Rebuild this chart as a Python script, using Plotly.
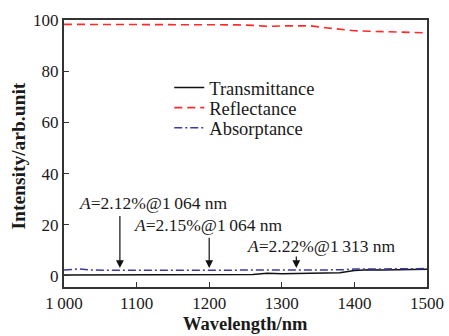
import plotly.graph_objects as go

wavelength = [1000, 1020, 1040, 1060, 1080, 1100, 1120, 1140, 1160, 1180, 1200, 1220, 1240, 1260,
              1280, 1300, 1320, 1340, 1360, 1380, 1400, 1420, 1440, 1460, 1480, 1500]
transmittance = [0.4, 0.4, 0.4, 0.4, 0.4, 0.4, 0.4, 0.4, 0.4, 0.4, 0.4, 0.4, 0.5, 0.6,
                 1.1, 0.9, 1.0, 1.1, 1.0, 1.3, 2.1, 2.4, 2.3, 2.4, 2.5, 2.6]
reflectance = [98.3, 98.3, 98.3, 98.3, 98.3, 98.3, 98.3, 98.3, 98.3, 98.2, 98.2, 98.2, 98.1, 97.9,
               97.5, 97.7, 97.8, 97.7, 97.0, 96.4, 95.8, 95.6, 95.5, 95.4, 95.3, 95.0]
absorptance = [2.3, 2.8, 2.3, 2.2, 2.2, 2.2, 2.2, 2.2, 2.2, 2.2, 2.2, 2.2, 2.2, 2.2,
               2.3, 2.3, 2.3, 2.3, 2.3, 2.4, 2.7, 2.8, 2.7, 2.8, 2.8, 2.9]

x_ticks = [1000, 1100, 1200, 1300, 1400, 1500]
x_tick_labels = ["1\u2009000", "1100", "1200", "1300", "1400", "1500"]
y_ticks = [0, 20, 40, 60, 80, 100]

x_title = "Wavelength/nm"
y_title = "Intensity/arb.unit"

notes = ["<i>A</i>=2.12%@1\u2009064 nm", "<i>A</i>=2.15%@1\u2009064 nm", "<i>A</i>=2.22%@1\u2009313 nm"]
note_text_x = [1018, 1094, 1249]
note_text_y = [28.6, 20.0, 11.8]
arrow_x = [1077, 1200, 1320]
arrow_tail_y = [24.0, 15.5, 8.2]
arrow_head_y = [3.1, 3.1, 3.1]

FONT = "Liberation Serif"
INK = "#1a1a1a"

fig = go.Figure()
fig.add_trace(go.Scatter(x=wavelength, y=transmittance, mode="lines", name="Transmittance",
                         legend="legend", line=dict(color="#111111", width=1.5)))
fig.add_trace(go.Scatter(x=wavelength, y=reflectance, mode="lines", name="Reflectance",
                         legend="legend2", line=dict(color="#ff2a2a", width=1.6, dash="8px,5px")))
fig.add_trace(go.Scatter(x=wavelength, y=absorptance, mode="lines", name="Absorptance",
                         legend="legend3", line=dict(color="#3a3aa0", width=1.5, dash="8px,3px,2px,3px")))

annotations = []
for t, tx, ty in zip(notes, note_text_x, note_text_y):
    annotations.append(dict(x=tx, y=ty, xref="x", yref="y", text=t, showarrow=False,
                            xanchor="left", yanchor="middle",
                            font=dict(family=FONT, size=17.5, color=INK)))
for ax_, t_, h_ in zip(arrow_x, arrow_tail_y, arrow_head_y):
    annotations.append(dict(x=ax_, y=h_, xref="x", yref="y", ax=ax_, ay=t_, axref="x", ayref="y",
                            text="", showarrow=True, arrowhead=2, arrowsize=1.3, arrowwidth=1.2,
                            arrowcolor="#111111"))
# axis titles
annotations.append(dict(x=0.5, y=0, xref="paper", yref="paper", yshift=-37, text="<b>%s</b>" % x_title,
                        showarrow=False, xanchor="center", yanchor="middle",
                        font=dict(family=FONT, size=18.5, color=INK)))
annotations.append(dict(x=0, y=0.5, xref="paper", yref="paper", xshift=-46, yshift=-3,
                        text="<b>%s</b>" % y_title, textangle=-90,
                        showarrow=False, xanchor="center", yanchor="middle",
                        font=dict(family=FONT, size=19.5, color=INK)))

legend_style = dict(x=0.29, xanchor="left", yanchor="middle", bgcolor="rgba(0,0,0,0)",
                    font=dict(family=FONT, size=18.5, color=INK), itemwidth=30)

fig.update_layout(
    width=449, height=336,
    margin=dict(l=64, r=22, t=20, b=49),
    paper_bgcolor="white", plot_bgcolor="white",
    font=dict(family=FONT, size=17, color=INK),
    showlegend=True,
    legend=dict(y=0.745, **legend_style),
    legend2=dict(y=0.670, **legend_style),
    legend3=dict(y=0.595, **legend_style),
    annotations=annotations,
    xaxis=dict(range=[1000, 1500], tickvals=x_ticks, ticktext=x_tick_labels, automargin=False,
               ticks="inside", ticklen=5, tickcolor="#333333", showgrid=False, zeroline=False,
               showline=True, linecolor="#333333", linewidth=2, mirror=True,
               tickfont=dict(family=FONT, size=17, color=INK)),
    yaxis=dict(range=[-4.3, 100], tickvals=y_ticks, automargin=False,
               ticks="inside", ticklen=5, tickcolor="#333333", showgrid=False, zeroline=False,
               showline=True, linecolor="#333333", linewidth=2, mirror=True,
               tickfont=dict(family=FONT, size=17, color=INK)),
)

fig.write_html("out.html")
